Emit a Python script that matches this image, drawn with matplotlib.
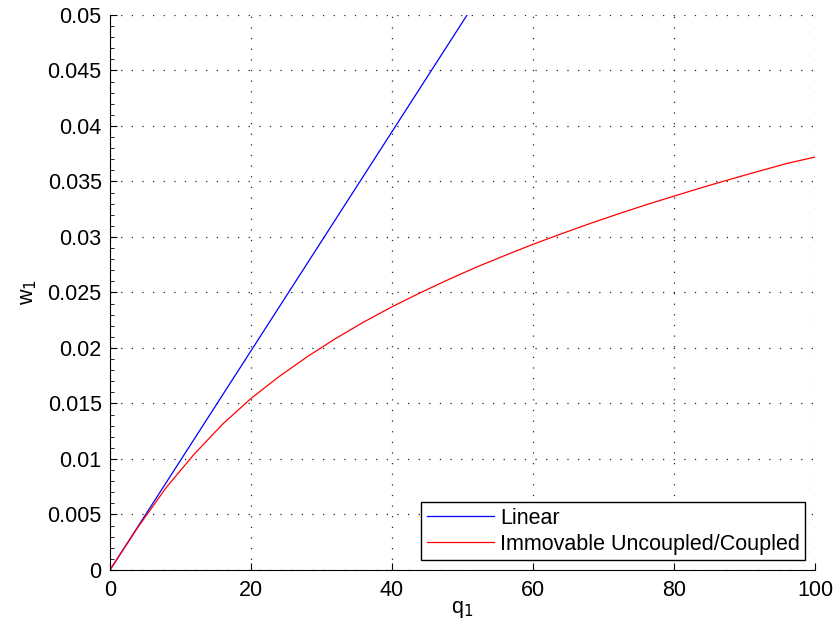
import numpy as np
import matplotlib
matplotlib.use('Agg')
import matplotlib.pyplot as plt
from matplotlib.ticker import MultipleLocator

# values
q_linear = [0, 100]
w_linear = [0, 0.0987]

q_nonlin = [0, 4, 8, 12, 16, 20, 24, 28, 32, 36, 40, 44, 48, 52, 56, 60,
            64, 68, 72, 76, 80, 84, 88, 92, 96, 100]
w_nonlin = [0, 0.00388, 0.00745, 0.01047, 0.01315, 0.01545, 0.01743, 0.01922,
            0.02085, 0.02234, 0.02371, 0.02497, 0.02616, 0.02729, 0.02833,
            0.02934, 0.03028, 0.03119, 0.03206, 0.03289, 0.03368, 0.03446,
            0.0352, 0.03592, 0.03662, 0.0372]

plt.rcParams['font.family'] = ['Liberation Sans', 'DejaVu Sans']
plt.rcParams['font.size'] = 15.5

fig = plt.figure(figsize=(8.35, 6.35), dpi=100)
ax = fig.add_axes([0.1317, 0.1024, 0.8443, 0.874])

ax.plot(q_linear, w_linear, color='#0000ff', lw=0.9, label='Linear')
ax.plot(q_nonlin, w_nonlin, color='#ff0000', lw=0.9, label='Immovable Uncoupled/Coupled')

ax.set_xlim(0, 100)
ax.set_ylim(0, 0.05)
ax.set_xticks(np.arange(0, 101, 20))
ax.set_yticks(np.arange(0, 0.0501, 0.005))
ax.set_yticklabels(['0', '0.005', '0.01', '0.015', '0.02', '0.025', '0.03',
                    '0.035', '0.04', '0.045', '0.05'])
ax.yaxis.set_minor_locator(MultipleLocator(0.001))

ax.grid(True, which='major', color='0.15', linestyle=(0, (1, 7.5)), lw=0.9)
ax.tick_params(direction='in', length=5, width=0.8, top=False, right=False)
ax.tick_params(axis='x', pad=7)
ax.tick_params(axis='y', pad=6)
ax.tick_params(which='minor', direction='in', length=3, width=0.6)
ax.spines['top'].set_visible(False)
ax.spines['right'].set_visible(False)

ax.set_xlabel('q$_1$', fontsize=15.5, labelpad=-1)
ax.set_ylabel('w$_1$', fontsize=15.5, labelpad=6)

leg = ax.legend(loc='lower right', fancybox=False, framealpha=1,
                edgecolor='k', fontsize=15.5, handlelength=3.1,
                borderaxespad=0.45, borderpad=0.25, labelspacing=0.25,
                handletextpad=0.3)
leg.get_frame().set_linewidth(1.0)

fig.savefig('out.png', dpi=100)
